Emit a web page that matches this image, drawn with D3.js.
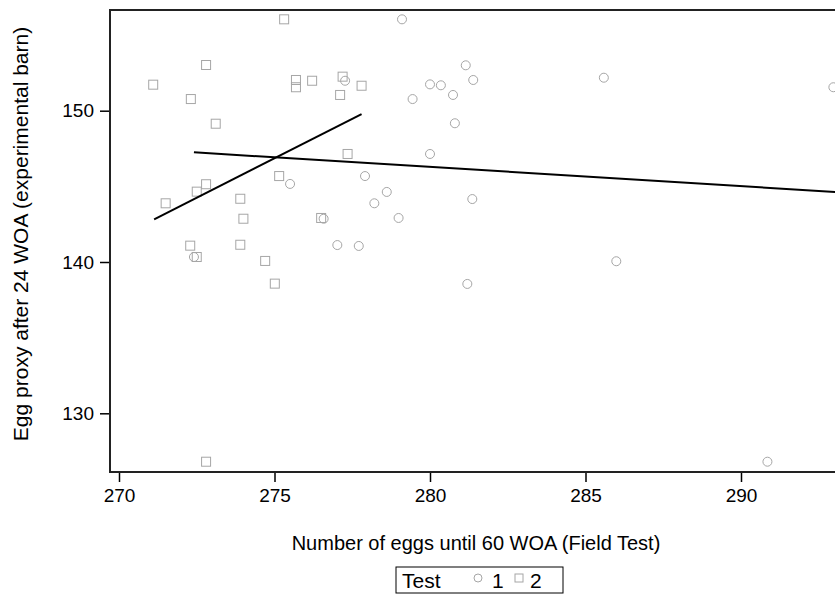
<!DOCTYPE html>
<html lang="en">
<head>
  <meta charset="UTF-8">
  <title>Egg proxy vs number of eggs</title>
  <script src="https://d3js.org/d3.v7.min.js"></script>
  <style>
    body { margin: 0; background: #fff; }
    text { font-family: "Liberation Sans", Arial, sans-serif; fill: #000; }
  </style>
</head>
<body>
  <div class="canvas"></div>
  <script>
    // Test 1 (circles)
    const test1X = [279.10, 281.15, 281.39, 280.00, 280.35, 280.74, 279.44, 280.80, 280.00, 277.27,
                    277.91, 275.50, 278.61, 278.21, 278.99, 276.58, 277.02, 277.71, 281.36, 281.20,
                    285.59, 285.99, 292.97, 272.41, 290.85];
    const test1Y = [156.04, 153.00, 152.03, 151.74, 151.68, 151.04, 150.77, 149.17, 147.14, 151.98,
                    145.68, 145.16, 144.63, 143.88, 142.91, 142.86, 141.12, 141.06, 144.16, 138.55,
                    152.18, 140.05, 151.55, 140.33, 126.80];
    // Test 2 (squares)
    const test2X = [275.31, 271.10, 272.80, 272.31, 273.11, 275.69, 275.69, 276.21, 277.19, 277.11,
                    277.80, 277.35, 275.15, 272.80, 272.50, 271.50, 273.90, 274.00, 272.29, 273.90,
                    272.50, 274.70, 275.01, 276.50, 272.80];
    const test2Y = [156.04, 151.72, 153.02, 150.77, 149.14, 152.03, 151.55, 151.98, 152.25, 151.04,
                    151.65, 147.14, 145.68, 145.14, 144.65, 143.88, 144.18, 142.86, 141.08, 141.14,
                    140.33, 140.07, 138.57, 142.91, 126.80];
    // fitted lines: [x0, x1], [y0, y1]
    const fit1X = [272.41, 293.6];
    const fit1Y = [147.25, 144.56];
    const fit2X = [271.13, 277.80];
    const fit2Y = [142.82, 149.78];

    const xTicks = [270, 275, 280, 285, 290];
    const yTicks = [130, 140, 150];

    const width = 835, height = 598;
    const plotLeft = 110, plotTop = 10, plotBottom = 472, plotRight = 850;

    const svg = d3.select(".canvas").append("svg")
      .attr("width", width)
      .attr("height", height);

    const x = d3.scaleLinear().domain([270, 290]).range([119, 741]);
    const y = d3.scaleLinear().domain([130, 150]).range([413.3, 110.7]);

    // axes
    const xAxis = svg.append("g")
      .attr("transform", `translate(0, ${plotBottom})`)
      .call(d3.axisBottom(x).tickValues(xTicks).tickSize(10).tickSizeOuter(0).tickPadding(7));
    const yAxis = svg.append("g")
      .attr("transform", `translate(${plotLeft}, 0)`)
      .call(d3.axisLeft(y).tickValues(yTicks).tickSize(10).tickSizeOuter(0).tickPadding(6));

    [xAxis, yAxis].forEach(g => {
      g.select(".domain").remove();
      g.selectAll(".tick line").attr("stroke", "#000").attr("stroke-width", 1.5);
      g.selectAll(".tick text").attr("font-size", 19).attr("font-family", "Liberation Sans, Arial, sans-serif");
    });

    // frame (left, top, bottom)
    svg.append("path")
      .attr("d", `M${plotRight},${plotTop}H${plotLeft}V${plotBottom}H${plotRight}`)
      .attr("fill", "none")
      .attr("stroke", "#222")
      .attr("stroke-width", 2);

    const plot = svg.append("g");

    const grey = "#a6a6a6";

    plot.selectAll(".c1").data(test1X.map((v, i) => [v, test1Y[i]]))
      .join("circle")
      .attr("class", "c1")
      .attr("cx", d => x(d[0]))
      .attr("cy", d => y(d[1]))
      .attr("r", 4.5)
      .attr("fill", "none")
      .attr("stroke", grey)
      .attr("stroke-width", 1);

    const sq = 9;
    plot.selectAll(".s2").data(test2X.map((v, i) => [v, test2Y[i]]))
      .join("rect")
      .attr("class", "s2")
      .attr("x", d => x(d[0]) - sq / 2)
      .attr("y", d => y(d[1]) - sq / 2)
      .attr("width", sq)
      .attr("height", sq)
      .attr("fill", "none")
      .attr("stroke", grey)
      .attr("stroke-width", 1);

    const line = d3.line().x(d => x(d[0])).y(d => y(d[1]));
    [[fit1X, fit1Y], [fit2X, fit2Y]].forEach(([fx, fy]) => {
      plot.append("path")
        .datum(fx.map((v, i) => [v, fy[i]]))
        .attr("d", line)
        .attr("fill", "none")
        .attr("stroke", "#000")
        .attr("stroke-width", 2);
    });

    // axis titles
    svg.append("text")
      .attr("x", 476)
      .attr("y", 550)
      .attr("text-anchor", "middle")
      .attr("font-size", 20)
      .text("Number of eggs until 60 WOA (Field Test)");

    svg.append("text")
      .attr("transform", `translate(28, 234) rotate(-90)`)
      .attr("text-anchor", "middle")
      .attr("font-size", 21)
      .text("Egg proxy after 24 WOA (experimental barn)");

    // legend
    const lg = svg.append("g").attr("transform", "translate(396, 567)");
    lg.append("rect")
      .attr("width", 167).attr("height", 26)
      .attr("fill", "none").attr("stroke", "#000").attr("stroke-width", 1);
    lg.append("text").attr("x", 6).attr("y", 21).attr("font-size", 21).text("Test");
    lg.append("circle").attr("cx", 82).attr("cy", 11).attr("r", 4)
      .attr("fill", "none").attr("stroke", grey);
    lg.append("text").attr("x", 96).attr("y", 21).attr("font-size", 21).text("1");
    lg.append("rect").attr("x", 119).attr("y", 7).attr("width", 8).attr("height", 8)
      .attr("fill", "none").attr("stroke", grey);
    lg.append("text").attr("x", 134).attr("y", 21).attr("font-size", 21).text("2");
  </script>
</body>
</html>
